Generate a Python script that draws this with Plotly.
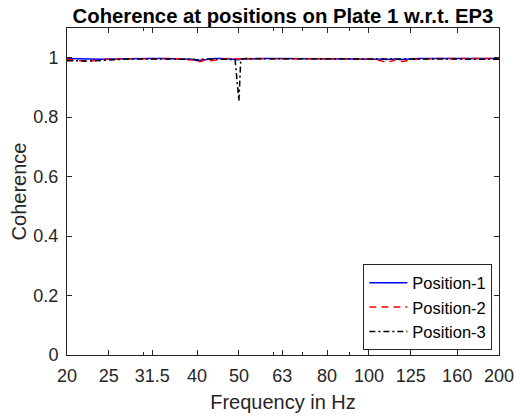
import plotly.graph_objects as go

freq = [20, 21, 22, 23, 24, 25, 27, 29, 31, 33, 35, 37, 39, 40, 41, 42, 43, 44, 45,
        47, 48, 49, 50, 50.5, 52, 55, 60, 65, 70, 75, 80, 85, 90, 95, 100, 105, 108,
        110, 112, 115, 118, 120, 125, 130, 140, 150, 160, 170, 180, 190, 200]

pos1 = [0.997, 0.996, 0.995, 0.994, 0.995, 0.996, 0.997, 0.997, 0.997, 0.997, 0.997, 0.997, 0.995, 0.990, 0.992, 0.995, 0.996, 0.997, 0.997,
        0.997, 0.996, 0.994, 0.993, 0.996, 0.997, 0.997, 0.997, 0.997, 0.997, 0.997, 0.997, 0.997, 0.997, 0.997, 0.997, 0.996, 0.995,
        0.994, 0.995, 0.996, 0.994, 0.995, 0.996, 0.997, 0.997, 0.997, 0.997, 0.997, 0.997, 0.997, 0.997]

pos2 = [0.995, 0.992, 0.988, 0.990, 0.993, 0.995, 0.996, 0.997, 0.997, 0.997, 0.997, 0.996, 0.992, 0.986, 0.988, 0.993, 0.990, 0.992, 0.995,
        0.997, 0.997, 0.996, 0.995, 0.996, 0.997, 0.997, 0.997, 0.997, 0.997, 0.997, 0.997, 0.997, 0.997, 0.997, 0.996, 0.992, 0.986,
        0.984, 0.987, 0.993, 0.988, 0.987, 0.993, 0.996, 0.997, 0.996, 0.997, 0.997, 0.996, 0.997, 0.997]

pos3 = [0.990, 0.989, 0.988, 0.989, 0.991, 0.993, 0.995, 0.996, 0.996, 0.996, 0.996, 0.996, 0.995, 0.993, 0.995, 0.996, 0.996, 0.996, 0.996,
        0.996, 0.996, 0.994, 0.855, 0.996, 0.997, 0.997, 0.997, 0.997, 0.997, 0.997, 0.997, 0.997, 0.997, 0.997, 0.997, 0.996, 0.996,
        0.996, 0.996, 0.997, 0.997, 0.996, 0.995, 0.995, 0.995, 0.995, 0.995, 0.995, 0.995, 0.995, 0.995]

x_ticks = [20, 25, 31.5, 40, 50, 63, 80, 100, 125, 160, 200]
x_tick_labels = ["20", "25", "31.5", "40", "50", "63", "80", "100", "125", "160", "200"]
x_minor = [30, 60, 70, 90]
y_ticks = [0, 0.2, 0.4, 0.6, 0.8, 1]
y_tick_labels = ["0", "0.2", "0.4", "0.6", "0.8", "1"]

axis_col = "#262626"
font_fam = "Liberation Sans, Arial, sans-serif"

fig = go.Figure()
fig.add_trace(go.Scatter(x=freq, y=pos1, mode="lines", name="Position-1",
                         line=dict(color="#0000ff", width=1.5)))
fig.add_trace(go.Scatter(x=freq, y=pos2, mode="lines", name="Position-2",
                         line=dict(color="#ff0000", width=1.5, dash="7px,5px")))
fig.add_trace(go.Scatter(x=freq, y=pos3, mode="lines", name="Position-3",
                         line=dict(color="#000000", width=1.5, dash="6px,3px,2px,3px")))

fig.update_layout(
    width=515, height=418,
    margin=dict(l=67, r=16, t=28, b=63),
    paper_bgcolor="white", plot_bgcolor="white",
    font=dict(family=font_fam, color=axis_col, size=18),
    title=dict(text="<b>Coherence at positions on Plate 1 w.r.t. EP3</b>",
               xref="paper", x=0.5, xanchor="center", y=0.963, yanchor="middle",
               font=dict(size=20.3, color="black", family=font_fam)),
    showlegend=True,
    legend=dict(x=0.686, y=0.014, xanchor="left", yanchor="bottom",
                bgcolor="white", bordercolor=axis_col, borderwidth=1,
                font=dict(size=16.5, color="black"), tracegroupgap=0,
                itemwidth=38),
)
fig.update_xaxes(type="log", range=[1.30103, 2.30103], automargin=False,
                 tickmode="array", tickvals=x_ticks, ticktext=x_tick_labels,
                 ticks="inside", ticklen=5, tickcolor=axis_col,
                 minor=dict(tickmode="array", tickvals=x_minor, ticks="inside", ticklen=3, tickcolor=axis_col),
                 showline=True, linecolor=axis_col, linewidth=1, mirror="ticks",
                 showgrid=False, zeroline=False, ticklabelstandoff=4,
                 tickfont=dict(size=18, color=axis_col),
                 title=dict(text="Frequency in Hz", font=dict(size=20, color=axis_col), standoff=10))
fig.update_yaxes(range=[0, 1.1], automargin=False,
                 tickmode="array", tickvals=y_ticks, ticktext=y_tick_labels,
                 ticks="inside", ticklen=5, tickcolor=axis_col,
                 showline=True, linecolor=axis_col, linewidth=1, mirror="ticks",
                 showgrid=False, zeroline=False, ticklabelstandoff=4,
                 tickfont=dict(size=18, color=axis_col),
                 title=dict(text="Coherence", font=dict(size=20, color=axis_col), standoff=1))

# remove the browser's default 8px body margin so the figure fills the window
fig.write_html("out.html", config={"displayModeBar": False},
               post_script="document.body.style.margin='0';document.body.style.overflow='hidden';")
